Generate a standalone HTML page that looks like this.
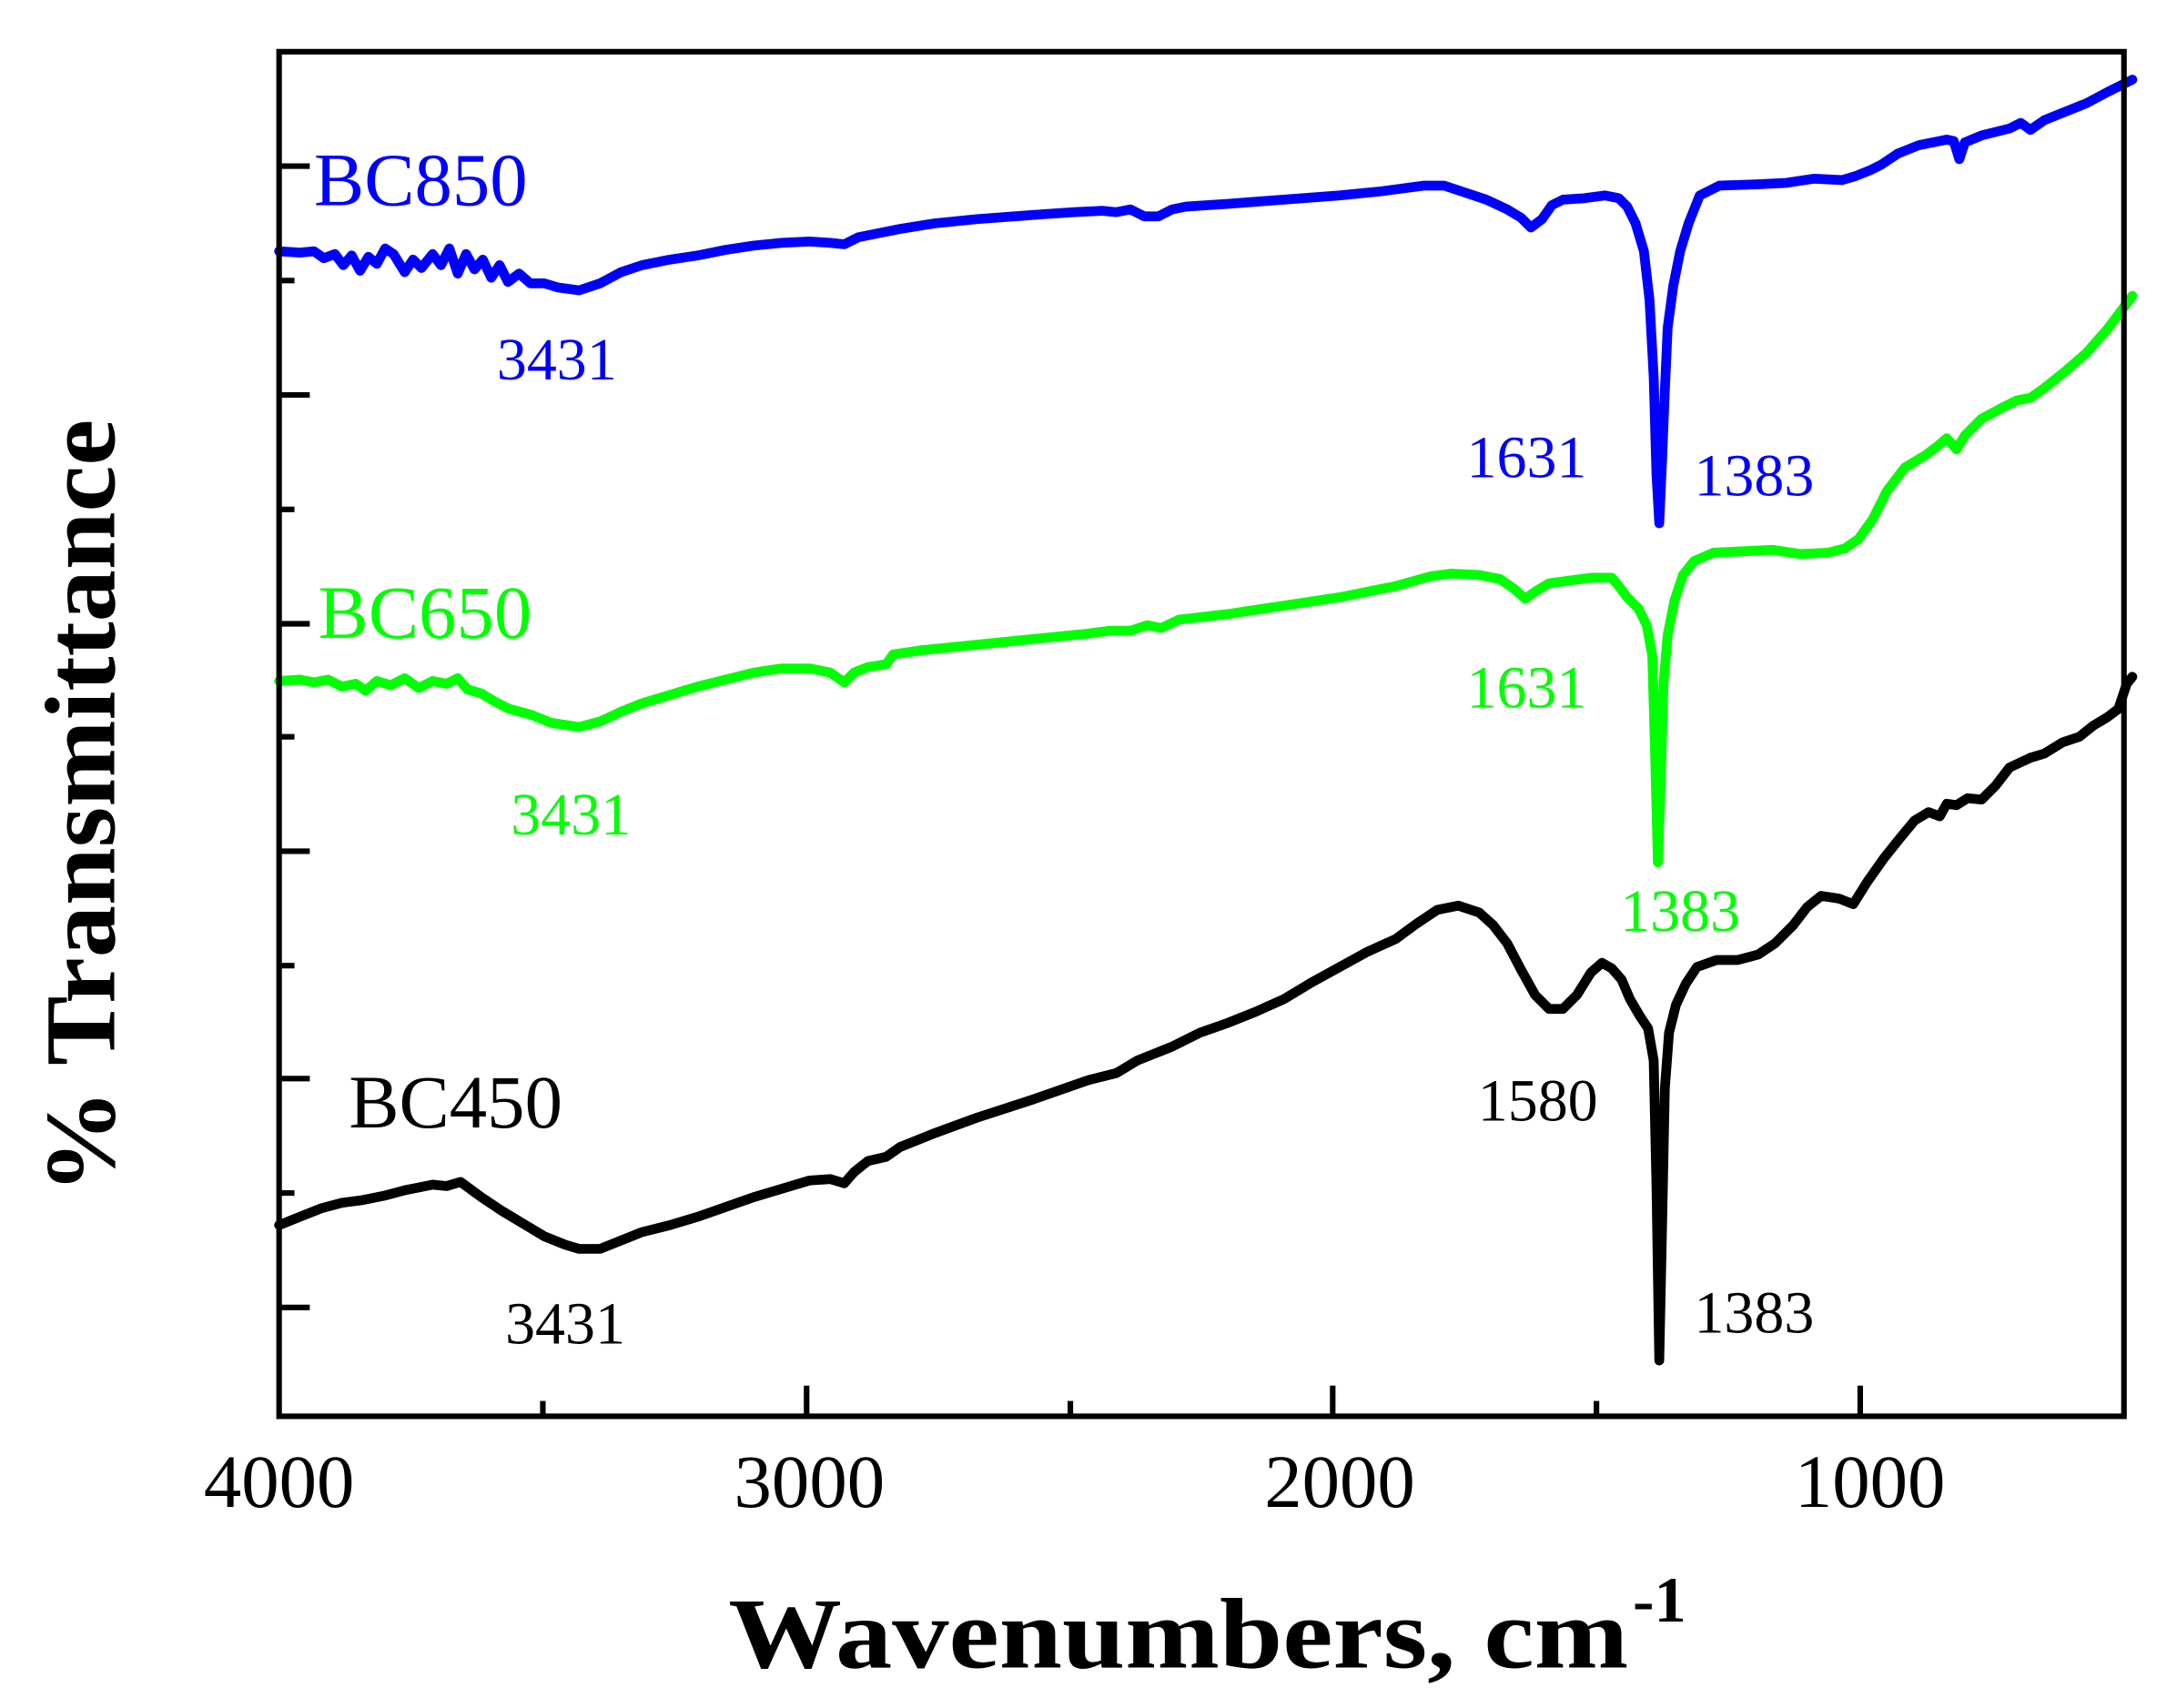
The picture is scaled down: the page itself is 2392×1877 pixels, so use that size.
<!DOCTYPE html>
<html><head><meta charset="utf-8"><style>
html,body{margin:0;padding:0;background:#fff;}
svg{display:block;}
text{font-family:"Liberation Serif",serif;}
</style></head><body>
<svg width="2392" height="1877" viewBox="0 0 1560 1224" xmlns="http://www.w3.org/2000/svg">
<rect x="0" y="0" width="1560" height="1224" fill="#fff"/>
<g fill="none" stroke-width="7" stroke-linejoin="round" stroke-linecap="round">
<polyline stroke="#0000ff" points="200,180 215,181 225,180 232,185 240,182 246,190 252,183 258,194 264,184 270,189 276,178 282,182 290,195 296,186 302,192 310,182 316,190 322,178 328,196 334,182 340,193 346,186 352,199 358,190 364,202 372,196 380,203 390,203 400,206 415,208 430,203 445,195 460,190 480,186 500,183 520,179 540,176 560,174 580,173 595,174 605,175 615,170 630,167 645,164 670,160 700,157 740,154 770,152 790,151 800,152 810,150 820,155 830,155 840,150 850,148 880,146 920,143 960,140 990,137 1020,133 1035,133 1050,138 1065,143 1080,150 1090,156 1097,163 1105,157 1112,147 1120,143 1135,142 1150,140 1160,142 1166,148 1172,160 1178,180 1182,215 1185,270 1187,340 1189,375 1191,330 1193,280 1195,235 1199,205 1204,180 1210,160 1218,140 1232,133 1260,132 1280,131 1300,128 1320,129 1330,126 1340,122 1348,118 1360,110 1375,104 1395,100 1400,101 1404,114 1408,102 1420,97 1440,92 1448,88 1455,93 1465,86 1480,80 1495,74 1510,66 1528,57"/>
<polyline stroke="#00ff00" points="200,488 215,487 225,489 235,487 245,492 255,490 262,495 270,488 280,491 290,486 300,493 310,488 320,490 328,486 335,494 345,497 355,503 365,508 380,512 395,518 415,521 430,517 445,510 460,504 480,498 500,492 520,487 540,482 560,479 580,479 595,482 605,489 612,482 622,478 635,476 640,469 660,466 700,462 740,458 780,454 795,452 810,452 822,448 832,450 845,444 880,440 920,434 960,428 1000,420 1025,413 1040,411 1060,412 1075,415 1085,422 1093,429 1100,424 1110,418 1125,416 1140,414 1155,414 1160,420 1166,428 1174,436 1180,448 1184,470 1186,540 1188,618 1190,560 1192,490 1195,455 1200,430 1206,412 1214,402 1228,396 1250,395 1270,394 1290,397 1310,396 1322,393 1332,386 1342,372 1352,352 1365,335 1380,326 1388,320 1395,314 1402,322 1408,312 1420,300 1435,292 1445,287 1455,285 1465,278 1480,266 1495,253 1510,236 1528,212"/>
<polyline stroke="#000000" points="200,878 215,872 230,866 245,862 260,860 275,857 290,853 300,851 310,849 320,850 330,847 345,858 360,868 375,877 390,886 405,892 415,895 430,895 445,889 460,883 480,878 500,872 520,865 540,858 560,852 580,846 595,845 605,848 612,840 622,832 635,829 645,822 670,812 700,801 740,788 780,774 800,769 815,760 840,750 860,740 880,733 900,725 920,716 940,704 960,693 980,682 1000,673 1015,662 1030,652 1045,649 1060,654 1070,663 1080,676 1090,695 1100,713 1110,723 1120,723 1130,713 1140,697 1148,690 1155,694 1162,702 1168,716 1175,728 1181,737 1185,760 1187,850 1189,975 1191,880 1193,780 1196,740 1201,720 1208,705 1216,693 1230,688 1245,688 1260,684 1272,676 1285,663 1295,650 1305,642 1318,644 1328,648 1338,632 1350,615 1362,600 1372,588 1382,582 1390,585 1395,576 1402,577 1410,572 1420,573 1430,563 1440,550 1455,543 1465,540 1478,532 1490,528 1500,520 1510,514 1518,508 1524,490 1528,485"/>
</g>
<rect x="200" y="37" width="1322" height="978" fill="none" stroke="#000" stroke-width="4"/>
<g stroke="#000" stroke-width="4">
<line x1="200" y1="119" x2="222" y2="119"/>
<line x1="200" y1="201" x2="211" y2="201"/>
<line x1="200" y1="283" x2="222" y2="283"/>
<line x1="200" y1="365" x2="211" y2="365"/>
<line x1="200" y1="447" x2="222" y2="447"/>
<line x1="200" y1="528" x2="211" y2="528"/>
<line x1="200" y1="610" x2="222" y2="610"/>
<line x1="200" y1="692" x2="211" y2="692"/>
<line x1="200" y1="773" x2="222" y2="773"/>
<line x1="200" y1="855" x2="211" y2="855"/>
<line x1="200" y1="937" x2="222" y2="937"/>
<line x1="389" y1="1015" x2="389" y2="1004"/>
<line x1="578" y1="1015" x2="578" y2="993"/>
<line x1="767" y1="1015" x2="767" y2="1004"/>
<line x1="955" y1="1015" x2="955" y2="993"/>
<line x1="1144" y1="1015" x2="1144" y2="1004"/>
<line x1="1333" y1="1015" x2="1333" y2="993"/>
</g>
<g font-size="54" text-anchor="middle" fill="#000">
<text x="200" y="1080">4000</text>
<text x="580" y="1080">3000</text>
<text x="960" y="1080">2000</text>
<text x="1340" y="1080">1000</text>
</g>
<text x="522" y="1195" font-size="72" font-weight="bold" textLength="645" lengthAdjust="spacingAndGlyphs">Wavenumbers, cm</text>
<text x="1170" y="1162" font-size="46" font-weight="bold">-1</text>
<text transform="translate(82,578) rotate(-90)" text-anchor="middle" font-size="72" font-weight="bold" textLength="555" lengthAdjust="spacingAndGlyphs">% Transmittance</text>
<g font-size="54" fill="#0000ff"><text x="225" y="147">BC850</text></g>
<g font-size="43" fill="#0000ff">
<text x="356" y="272">3431</text>
<text x="1051" y="342">1631</text>
<text x="1214" y="355">1383</text>
</g>
<g font-size="54" fill="#00ff00"><text x="228" y="457">BC650</text></g>
<g font-size="43" fill="#00ff00">
<text x="1051" y="507">1631</text>
<text x="366" y="598">3431</text>
<text x="1161" y="667">1383</text>
</g>
<g font-size="54" fill="#000"><text x="250" y="808">BC450</text></g>
<g font-size="43" fill="#000">
<text x="1059" y="803">1580</text>
<text x="362" y="963">3431</text>
<text x="1214" y="955">1383</text>
</g>
</svg>
</body></html>
